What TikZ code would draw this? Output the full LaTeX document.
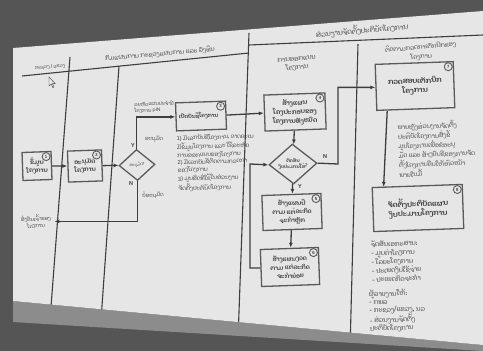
\documentclass[tikz,border=0pt]{standalone}
\usepackage{fontspec}
\setmainfont{Liberation Sans}
\newfontfamily\laofont[Script=Lao]{Dhyana}
\newfontfamily\latinfont{Liberation Sans}
\usetikzlibrary{arrows.meta, shapes.geometric}
\definecolor{wall}{HTML}{555555}
\definecolor{taskbar}{HTML}{8C8C8C}
\definecolor{screen}{HTML}{E6E6E6}
\definecolor{ink}{HTML}{3E3E3E}
\definecolor{edge}{HTML}{5A5A5A}

\begin{document}
\begin{tikzpicture}[
    x=1pt, y=-1pt,
    every node/.style={font=\laofont\fontsize{6}{7.8}\selectfont, text=ink, rotate=2},
    box/.style={rectangle, draw=edge, line width=1.3pt, align=center, inner sep=1pt, font=\laofont\bfseries\fontsize{6}{8}\selectfont},
    choice/.style={diamond, draw=edge, line width=1.3pt, align=center, inner sep=0pt},
    num/.style={circle, draw=edge, line width=0.9pt, inner sep=0pt, minimum size=8pt, font=\latinfont\bfseries\fontsize{4.4}{4.4}\selectfont},
    lane/.style={ink, line width=1.1pt},
    flow/.style={ink, line width=1.3pt, -{Latex[length=5pt, width=4pt]}},
    head/.style={align=center, rotate=3, inner sep=0.5pt},
    note/.style={font=\laofont\fontsize{5.6}{7.2}\selectfont, align=left, anchor=north west},
    yn/.style={font=\latinfont\bfseries\fontsize{5.6}{5.6}\selectfont},
]
\useasboundingbox (0,0) rectangle (483,351);

% the photo round the slide
\fill[wall] (0,0) rectangle (483,351);
\fill[taskbar] (13,301) -- (483,345) -- (483,351) -- (13,322) -- cycle;
\fill[screen] (13,48) -- (483,11) -- (483,345) -- (13,301) -- cycle;

% ============================================================ lanes
\begin{scope}
\clip (13,48) -- (483,11) -- (483,345) -- (13,301) -- cycle;
\draw[lane] (22,76) -- (249,53);
\draw[lane] (249,45) -- (483,35);
\draw[lane] (70,57) -- (50,320);
\draw[lane] (119,66) -- (101,320);
\draw[lane] (249,33) -- (238,340);
\draw[lane] (358,44) -- (350,350);
\end{scope}

\node[head, font=\laofont\fontsize{4.6}{6}\selectfont] (laneA) at (50,67) {ກະຊວງ / ແຂວງ};
\node[head, font=\laofont\fontsize{6}{7}\selectfont] (laneB) at (160,54) {ກົມແຜນການ ກະຊວງແຜນການ ແລະ ລົງທຶນ};
\node[head, font=\laofont\fontsize{7}{8}\selectfont] (laneC) at (362,30) {ສ່ວນງານຈັດຕັ້ງປະຕິບັດໂຄງການ};
\node[head, font=\laofont\fontsize{6.4}{8.6}\selectfont] (laneC1) at (297,64) {ການອອກແບບ\\ໂຄງການ};
\node[head, font=\laofont\fontsize{6}{9.6}\selectfont] (laneC2) at (421,52) {ຕິດຕາມກວດກາເຕັກນິກຂອງ\\ໂຄງການ};

% mouse pointer
\draw[ink, fill=screen, line width=0.4pt] (49,77) -- (49,86) -- (51.2,84) -- (52.8,87.6) -- (54,87) -- (52.5,83.6) -- (55.2,83.6) -- cycle;

% ============================================================ steps
\node[box, minimum width=29, minimum height=28] (b1) at (37,166) {ຂໍ້ມູນ\\ໂຄງການ};
\node[box, minimum width=34, minimum height=31] (b2) at (85,166) {ອະນຸມັດ\\ໂຄງການ};
\node[choice, minimum width=36, minimum height=31, font=\laofont\fontsize{3.8}{4}\selectfont] (d1) at (137,165) {ອະນຸມັດ?};
\node[box, minimum width=50, minimum height=28, font=\laofont\bfseries\fontsize{5.4}{7}\selectfont] (b3) at (201,116) {ເປີດບັນຊີໂຄງການ\hspace{5pt}};
\node[box, minimum width=61, minimum height=36, font=\laofont\bfseries\fontsize{6.4}{9}\selectfont] (b4) at (295,112) {ສ້າງແຜນ\\ໂຄງປະກອບຂອງ\\ໂຄງການທັງໝົດ};
\node[choice, minimum width=48, minimum height=35, font=\laofont\bfseries\fontsize{4.6}{5.8}\selectfont] (d2) at (293,164) {ຕັດສິນ\\ງົບປະມານໃສ່?};
\node[box, minimum width=59, minimum height=35, font=\laofont\bfseries\fontsize{6}{8.6}\selectfont] (b5) at (292,212) {ສ້າງແຜນປີ\\ຕາມ ແຕ່ລະກິດ\\ຈະກຳຫຼັກ};
\node[box, minimum width=58, minimum height=37, font=\laofont\bfseries\fontsize{6}{8.6}\selectfont] (b6) at (290,267) {ສ້າງແຜນງວດ\\ຕາມ ແຕ່ລະກິດ\\ຈະກຳຍ່ອຍ};
\node[box, minimum width=78, minimum height=46, font=\laofont\bfseries\fontsize{7.2}{9.4}\selectfont] (b7) at (415,86) {ກວດສອບເຕັກນິກ\\ໂຄງການ};
\node[box, minimum width=90, minimum height=44, font=\laofont\bfseries\fontsize{7.2}{9.4}\selectfont] (b8) at (418,208) {ຈັດຕັ້ງປະຕິບັດແຜນ\\ງົບປະມານໂຄງການ};

\foreach \b/\n in {b1/1, b2/2, b3/3, b4/4, b5/5, b6/6, b7/7, b8/8}{
    \node[num, anchor=north east] (n\n) at ([shift={(-2.5,2.5)}]\b.north east) {\n};
}

% ============================================================ labels
\node[anchor=west, align=left, font=\laofont\fontsize{4.8}{6.2}\selectfont] (pin) at (131,108) {ລະຫັດແຜນປະຈຳປີ\\ໂຄງການ {\latinfont PIN}};
\node[font=\laofont\fontsize{5.2}{6}\selectfont] (okA) at (154,139) {ອະນຸມັດ};
\node[yn] (yA) at (133,146) {Y};
\node[yn] (nA) at (131,184) {N};
\node[font=\laofont\fontsize{5.2}{6}\selectfont] (noA) at (153,195) {ບໍ່ອະນຸມັດ};
\node[align=center, font=\laofont\fontsize{5}{6.8}\selectfont] (ret) at (36,222) {ສົ່ງຄືນເຈົ້າຂອງ\\ໂຄງການ};
\node[yn] (nB) at (325,157) {N};
\node[yn] (yB) at (300,187) {Y};

\node[note] (note3) at (173,132) {{\latinfont 1)} ມີເລກບັນຊີໂຄງການ, ຄາດຄະເນ\\ມີຂໍ້ມູນໂຄງການ ແລະ ໃຊ້ລະຫັດ\\ການອອກແບບຂອງໂຄງການ\\{\latinfont 2)} ມີເລກບັນຊີຕິດຕາມກວດກາ\\ຂອງໂຄງການ\\{\latinfont 3)} ມູນສິດທີ່ໃຊ້ໃນສ່ວນງານ\\ຈັດຕັ້ງປະຕິບັດໂຄງການ};
\node[note, font=\laofont\fontsize{6}{7.8}\selectfont] (note7) at (394,119) {ພາຍຫຼັງສ່ວນງານຈັດຕັ້ງ\\ປະຕິບັດໂຄງການສົ່ງຂໍ້\\ມູນໂຄງການເພື່ອຂໍອະນຸ\\ມັດ ແລະ ສ້າງບັນຊີຂອງການຈັດ\\ຕັ້ງໂຄງການຄືນໃຫ້ຫົວໜ້າ\\ພາຍໃນມື້};
\node[note, font=\laofont\fontsize{6.4}{8.8}\selectfont] (docs) at (367,238) {ຈັດສັນເອກະສານ:\\- ມູນຄ່າໂຄງການ\\- ໄລຍະໂຄງການ\\- ປະເພດງົບໃຊ້ຈ່າຍ\\- ປະເພດກິດຈະກຳ};
\node[note, font=\laofont\fontsize{6.4}{8}\selectfont] (report) at (365,287) {ຜູ້ລາຍງານໃຫ້:\\- ກພລ\\- ກະຊວງ/ແຂວງ, ນວ\\- ສ່ວນງານຈັດຕັ້ງ\\ປະຕິບັດໂຄງການ};

% ============================================================ flow
\coordinate (turn) at (338,164);
\coordinate (back) at (250,164);
\draw[flow] (b1) -- (b2);
\draw[flow] (b2) -- (d1);
\draw[flow] (d1.north) |- (b3.west);
\draw[flow] (d1.south) |- (ret.east);
\draw[flow] (b3.east) -- (b4.west);
\draw[flow] (b4) -- (d2);
\draw[flow] (d2.east) -- (turn) |- (b7.west);
\draw[flow] (d2) -- (b5);
\draw[flow] (b5) -- (b6);
\draw[flow] (b6.west) -| (back) -- (d2.west);
\draw[flow] ([xshift=11pt]b7.south west) -- ([xshift=12pt]b8.north west);

\end{tikzpicture}
\end{document}
